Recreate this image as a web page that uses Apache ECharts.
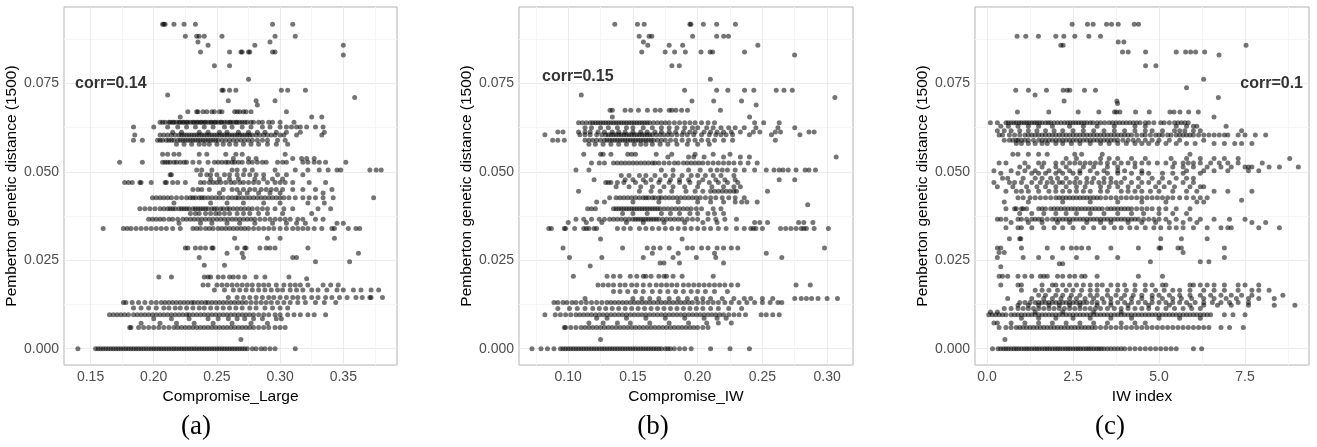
<!DOCTYPE html>
<html>
<head>
<meta charset="utf-8">
<script src="https://cdn.jsdelivr.net/npm/echarts@6/dist/echarts.min.js"></script>
<style>
html,body{margin:0;padding:0;background:#fff;}
#main{width:1317px;height:447px;}
</style>
</head>
<body>
<div id="main"></div>
<script>
// each row: [distance, [x values on that row]]
var rowsLarge = [
  [0.0917,[0.207,0.208,0.209,0.216,0.224,0.233,0.294,0.310]],
  [0.0883,[0.225,0.234,0.236,0.240,0.254,0.296,0.312]],
  [0.0867,[0.235,0.292]],
  [0.0858,[0.243,0.280,0.350]],
  [0.0839,[0.237,0.260,0.269,0.270,0.275,0.276,0.294,0.296]],
  [0.0830,[0.350]],
  [0.0800,[0.248,0.260]],
  [0.0762,[0.275]],
  [0.0731,[0.254,0.255,0.260,0.265,0.301,0.306,0.320]],
  [0.0717,[0.211]],
  [0.0710,[0.359]],
  [0.0701,[0.259,0.281,0.296]],
  [0.0689,[0.282]],
  [0.0670,[0.227,0.234,0.235,0.239,0.242,0.246,0.248,0.252,0.254,0.264,0.266,0.268,0.271,0.273,0.277,0.305]],
  [0.0655,[0.221,0.325,0.333]],
  [0.0640,[0.205,0.207,0.209,0.212,0.213,0.215,0.216,0.218,0.220,0.221,0.223,0.224,0.226,0.227,0.229,0.231,0.232,0.234,0.235,0.237,0.238,0.240,0.241,0.243,0.245,0.246,0.248,0.249,0.251,0.253,0.254,0.256,0.258,0.260,0.261,0.263,0.265,0.266,0.268,0.270,0.272,0.274,0.277,0.279,0.283,0.286,0.291,0.294,0.300,0.311]],
  [0.0627,[0.184,0.200,0.211,0.219,0.226,0.233,0.240,0.247,0.256,0.262,0.270,0.277,0.286,0.292,0.300,0.305,0.309,0.313,0.316,0.321,0.328,0.334]],
  [0.0612,[0.215,0.222,0.236,0.243,0.252,0.258,0.267,0.275,0.282,0.288,0.297,0.305,0.316,0.335]],
  [0.0604,[0.185,0.205,0.208,0.211,0.214,0.217,0.220,0.222,0.224,0.226,0.228,0.230,0.232,0.234,0.236,0.238,0.240,0.242,0.244,0.246,0.248,0.250,0.252,0.254,0.256,0.258,0.260,0.262,0.264,0.266,0.268,0.270,0.272,0.274,0.276,0.278,0.281,0.284,0.287,0.290,0.293,0.296,0.300,0.303,0.313,0.333]],
  [0.0589,[0.184,0.191,0.203,0.205,0.207,0.210,0.212,0.214,0.216,0.219,0.221,0.223,0.225,0.227,0.229,0.231,0.233,0.235,0.237,0.239,0.241,0.243,0.245,0.247,0.249,0.251,0.254,0.257,0.260,0.263,0.266,0.269,0.272,0.275,0.278,0.282,0.286,0.290,0.298,0.304]],
  [0.0578,[0.218,0.224,0.230,0.236,0.240,0.244,0.250,0.255,0.260,0.265,0.271,0.277,0.283,0.290,0.297,0.306]],
  [0.0550,[0.207,0.211,0.216,0.220,0.236,0.242,0.257,0.265,0.270,0.304]],
  [0.0538,[0.263,0.275,0.281,0.310,0.317,0.321,0.327]],
  [0.0527,[0.173,0.191,0.207,0.209,0.211,0.213,0.216,0.218,0.221,0.224,0.226,0.231,0.236,0.243,0.248,0.251,0.254,0.257,0.259,0.262,0.264,0.267,0.270,0.275,0.278,0.282,0.286,0.289,0.298,0.302,0.305,0.318,0.322,0.327,0.331,0.336,0.352]],
  [0.0505,[0.234,0.238,0.246,0.262,0.266,0.272,0.278,0.296,0.312,0.322,0.331,0.338,0.345,0.348,0.371,0.376,0.380]],
  [0.0492,[0.213,0.214,0.237,0.242,0.245,0.250,0.256,0.260,0.266,0.271,0.276,0.281,0.287,0.298,0.305,0.318]],
  [0.0480,[0.245,0.252,0.260,0.267,0.280,0.287,0.294,0.302]],
  [0.0470,[0.177,0.180,0.183,0.189,0.190,0.198,0.209,0.210,0.215,0.219,0.225,0.237,0.240,0.244,0.247,0.250,0.253,0.257,0.261,0.264,0.268,0.271,0.275,0.279,0.283,0.290,0.296,0.300,0.304,0.310,0.323,0.336]],
  [0.0450,[0.231,0.235,0.238,0.244,0.255,0.262,0.266,0.271,0.276,0.280,0.285,0.289,0.293,0.297,0.302,0.310,0.318,0.328,0.341]],
  [0.0440,[0.252,0.268,0.274,0.283,0.292,0.300,0.334]],
  [0.0427,[0.199,0.202,0.205,0.208,0.211,0.214,0.218,0.222,0.226,0.229,0.231,0.233,0.236,0.238,0.240,0.243,0.246,0.249,0.252,0.255,0.259,0.262,0.265,0.267,0.270,0.273,0.276,0.279,0.282,0.285,0.288,0.291,0.294,0.297,0.300,0.303,0.307,0.312,0.318,0.323,0.328,0.334,0.342,0.374]],
  [0.0412,[0.216,0.245,0.258,0.271,0.287,0.300,0.322,0.335]],
  [0.0396,[0.189,0.193,0.197,0.201,0.205,0.208,0.211,0.213,0.215,0.217,0.220,0.222,0.224,0.226,0.228,0.231,0.233,0.235,0.237,0.239,0.241,0.243,0.246,0.248,0.250,0.253,0.255,0.258,0.260,0.263,0.266,0.269,0.272,0.275,0.278,0.282,0.286,0.290,0.296,0.303,0.310,0.330,0.340]],
  [0.0382,[0.229,0.233,0.236,0.241,0.245,0.249,0.252,0.256,0.260,0.266,0.271,0.276,0.283,0.290,0.302,0.325]],
  [0.0366,[0.196,0.199,0.202,0.205,0.208,0.212,0.215,0.219,0.223,0.226,0.229,0.232,0.235,0.238,0.241,0.244,0.247,0.250,0.253,0.256,0.259,0.262,0.265,0.268,0.271,0.274,0.277,0.280,0.284,0.288,0.292,0.296,0.300,0.304,0.308,0.314,0.318,0.328,0.334]],
  [0.0355,[0.220,0.237,0.246,0.258,0.268,0.280,0.294,0.305,0.313,0.320,0.345,0.350]],
  [0.0340,[0.160,0.176,0.179,0.182,0.186,0.190,0.194,0.198,0.202,0.206,0.210,0.215,0.221,0.231,0.234,0.237,0.241,0.244,0.247,0.251,0.254,0.257,0.260,0.263,0.266,0.269,0.272,0.275,0.279,0.283,0.287,0.291,0.295,0.300,0.305,0.310,0.314,0.318,0.322,0.327,0.333,0.341,0.343,0.354,0.360,0.363]],
  [0.0312,[0.264,0.290,0.300,0.343]],
  [0.0285,[0.225,0.227,0.233,0.237,0.241,0.246,0.247,0.266,0.272,0.273,0.284,0.289,0.292,0.296,0.322]],
  [0.0270,[0.258,0.270,0.362]],
  [0.0258,[0.236,0.271,0.310,0.313]],
  [0.0246,[0.328,0.355]],
  [0.0236,[0.240,0.256]],
  [0.0203,[0.204,0.214,0.240,0.243,0.245,0.251,0.255,0.260,0.263,0.267,0.272,0.281,0.288,0.307]],
  [0.0198,[0.321]],
  [0.0180,[0.239,0.243,0.250,0.254,0.258,0.262,0.266,0.270,0.274,0.278,0.283,0.287,0.291,0.297,0.303,0.308,0.312,0.316,0.322,0.334,0.340,0.346]],
  [0.0166,[0.248,0.256,0.263,0.268,0.273,0.278,0.283,0.288,0.293,0.298,0.302,0.308,0.313,0.318,0.325,0.330,0.337,0.345,0.350,0.358,0.364,0.372,0.378]],
  [0.0145,[0.259,0.266,0.271,0.276,0.281,0.286,0.291,0.295,0.300,0.305,0.310,0.314,0.319,0.325,0.330,0.336,0.341,0.347,0.353,0.360,0.365,0.371,0.372,0.381]],
  [0.0131,[0.176,0.178,0.183,0.188,0.193,0.198,0.202,0.206,0.209,0.212,0.215,0.218,0.221,0.224,0.227,0.230,0.232,0.235,0.238,0.241,0.243,0.246,0.249,0.252,0.255,0.258,0.261,0.264,0.267,0.270,0.273,0.277,0.281,0.285,0.289,0.293,0.298,0.303,0.308,0.314,0.320,0.328,0.335,0.344]],
  [0.0115,[0.184,0.190,0.196,0.202,0.208,0.212,0.217,0.221,0.226,0.231,0.236,0.240,0.245,0.250,0.255,0.260,0.265,0.270,0.276,0.281,0.288,0.294,0.300,0.306]],
  [0.0096,[0.165,0.168,0.171,0.174,0.177,0.180,0.184,0.187,0.190,0.193,0.196,0.199,0.202,0.205,0.208,0.211,0.214,0.217,0.220,0.223,0.226,0.228,0.231,0.234,0.237,0.240,0.243,0.246,0.249,0.252,0.255,0.258,0.261,0.264,0.267,0.270,0.273,0.276,0.279,0.283,0.287,0.291,0.296,0.300,0.306,0.311,0.316,0.322,0.327,0.336]],
  [0.0085,[0.200,0.214,0.228,0.243,0.251,0.259,0.266,0.272,0.279,0.286,0.297,0.301]],
  [0.0072,[0.190,0.205,0.218,0.232,0.247,0.262,0.277,0.290]],
  [0.0060,[0.181,0.182,0.188,0.192,0.196,0.200,0.204,0.208,0.212,0.216,0.219,0.222,0.225,0.228,0.231,0.234,0.237,0.240,0.243,0.246,0.249,0.252,0.255,0.258,0.261,0.264,0.267,0.270,0.273,0.276,0.279,0.283,0.287,0.291,0.296,0.300,0.304]],
  [0.0026,[0.269]],
  [0,[0.140,0.154,0.156,0.158,0.160,0.162,0.164,0.166,0.168,0.170,0.172,0.174,0.176,0.178,0.180,0.182,0.184,0.186,0.188,0.190,0.192,0.194,0.196,0.198,0.200,0.202,0.204,0.206,0.208,0.210,0.212,0.214,0.216,0.218,0.220,0.222,0.224,0.226,0.228,0.230,0.232,0.234,0.236,0.238,0.240,0.242,0.244,0.246,0.248,0.250,0.252,0.254,0.256,0.258,0.260,0.262,0.264,0.266,0.268,0.270,0.272,0.274,0.278,0.281,0.285,0.288,0.292,0.296,0.312]]
];

var rowsIW = [
  [0.0917,[0.136,0.1535,0.1587,0.194,0.1948,0.2044,0.2147,0.2292]],
  [0.0883,[0.1548,0.1625,0.1646,0.1961,0.2147,0.2201,0.2238]],
  [0.0867,[0.1581]],
  [0.0858,[0.1615,0.178,0.1884,0.2465]],
  [0.0839,[0.1568,0.1749,0.1822,0.1905,0.2026,0.2096,0.2116,0.2362]],
  [0.0830,[0.2749]],
  [0.0800,[0.1801,0.1858]],
  [0.0762,[0.2098]],
  [0.0731,[0.1899,0.2147,0.2233,0.2362,0.2434,0.2607,0.2667,0.2731]],
  [0.0717,[0.1101]],
  [0.0710,[0.306]],
  [0.0700,[0.1956,0.2124,0.2339]],
  [0.0689,[0.2452]],
  [0.0674,[0.1323,0.1341,0.1439,0.1483,0.1543,0.1612,0.1672,0.1711,0.178,0.1801,0.1832,0.1876,0.1922,0.2176]],
  [0.0655,[0.1341,0.2401]],
  [0.0639,[0.108,0.111,0.114,0.117,0.119,0.121,0.123,0.125,0.127,0.129,0.131,0.133,0.135,0.137,0.139,0.141,0.143,0.145,0.147,0.149,0.151,0.153,0.155,0.157,0.159,0.161,0.163,0.166,0.169,0.172,0.175,0.178,0.182,0.186,0.190,0.194,0.198,0.203,0.208,0.213,0.244,0.251,0.263]],
  [0.0625,[0.113,0.118,0.125,0.131,0.138,0.145,0.150,0.158,0.165,0.172,0.178,0.184,0.190,0.196,0.200,0.207,0.212,0.218,0.224,0.229,0.236,0.245,0.262,0.275]],
  [0.0613,[0.092,0.096,0.108,0.113,0.117,0.123,0.128,0.134,0.139,0.144,0.150,0.156,0.161,0.167,0.172,0.178,0.183,0.189,0.194,0.198,0.205,0.210,0.215,0.220,0.226,0.233,0.243,0.248,0.260,0.264,0.286,0.290]],
  [0.0605,[0.082,0.109,0.113,0.117,0.122,0.126,0.129,0.131,0.133,0.135,0.137,0.139,0.141,0.143,0.145,0.147,0.149,0.151,0.153,0.155,0.157,0.159,0.161,0.163,0.165,0.168,0.171,0.174,0.177,0.180,0.184,0.188,0.192,0.197,0.203,0.209,0.214,0.218,0.222,0.227,0.240,0.257,0.279]],
  [0.0589,[0.088,0.092,0.097,0.113,0.116,0.119,0.122,0.125,0.128,0.130,0.132,0.134,0.136,0.138,0.140,0.142,0.144,0.146,0.148,0.150,0.152,0.154,0.156,0.158,0.160,0.162,0.164,0.166,0.169,0.172,0.175,0.179,0.183,0.188,0.193,0.198,0.203,0.208,0.213,0.220,0.227,0.260]],
  [0.0578,[0.116,0.121,0.127,0.133,0.139,0.145,0.151,0.156,0.160,0.165,0.171,0.177,0.184,0.192,0.200,0.209]],
  [0.0550,[0.112,0.125,0.127,0.133,0.146,0.149,0.152,0.168,0.180,0.198,0.212,0.225]],
  [0.0542,[0.177,0.193,0.197,0.205,0.220,0.233,0.240,0.307]],
  [0.0525,[0.118,0.124,0.128,0.135,0.138,0.141,0.144,0.147,0.150,0.153,0.156,0.159,0.162,0.165,0.167,0.170,0.174,0.178,0.182,0.185,0.189,0.192,0.195,0.198,0.201,0.204,0.208,0.212,0.216,0.220,0.224,0.228,0.233,0.239,0.246]],
  [0.0505,[0.106,0.116,0.172,0.181,0.193,0.202,0.210,0.215,0.219,0.223,0.229,0.236,0.244,0.253,0.259,0.263,0.266,0.270,0.276,0.283,0.286,0.291]],
  [0.0490,[0.141,0.147,0.155,0.160,0.167,0.175,0.181,0.188,0.195,0.200,0.206,0.212,0.218,0.228]],
  [0.0478,[0.120,0.144,0.150,0.158,0.164,0.171,0.179,0.186,0.193,0.204,0.214,0.221,0.229,0.263,0.275]],
  [0.0470,[0.129,0.131,0.133,0.138,0.143,0.152,0.160,0.170,0.178,0.186,0.194,0.201,0.209,0.216,0.223,0.231]],
  [0.0458,[0.137,0.147,0.156,0.165,0.174,0.181,0.190,0.200,0.211,0.220,0.228,0.233]],
  [0.0445,[0.108,0.155,0.164,0.171,0.180,0.191,0.198,0.204,0.210,0.213,0.216,0.219,0.222,0.225,0.228,0.230,0.254]],
  [0.0427,[0.132,0.137,0.140,0.143,0.146,0.149,0.152,0.155,0.158,0.160,0.162,0.165,0.167,0.170,0.172,0.175,0.178,0.181,0.184,0.187,0.190,0.193,0.196,0.199,0.202,0.206,0.210,0.214,0.219,0.224,0.229,0.236]],
  [0.0415,[0.122,0.128,0.150,0.170,0.185,0.200,0.210,0.220,0.229,0.234,0.238,0.246]],
  [0.0407,[0.285]],
  [0.0396,[0.115,0.118,0.121,0.135,0.137,0.139,0.141,0.143,0.145,0.147,0.149,0.151,0.153,0.155,0.157,0.159,0.161,0.163,0.165,0.167,0.169,0.171,0.174,0.177,0.180,0.183,0.186,0.189,0.192,0.195,0.199,0.203,0.212,0.218]],
  [0.0382,[0.142,0.150,0.161,0.172,0.179,0.186,0.194,0.200,0.208,0.213,0.220]],
  [0.0366,[0.106,0.112,0.118,0.124,0.128,0.132,0.135,0.138,0.141,0.144,0.147,0.150,0.152,0.154,0.156,0.158,0.160,0.162,0.164,0.166,0.168,0.170,0.173,0.176,0.179,0.182,0.185,0.188,0.192,0.196,0.200,0.208,0.214,0.221,0.230]],
  [0.0357,[0.100,0.114,0.126,0.145,0.158,0.174,0.190,0.204,0.215,0.244,0.248,0.254,0.278,0.282,0.289]],
  [0.0340,[0.085,0.087,0.097,0.098,0.105,0.112,0.114,0.116,0.120,0.122,0.138,0.143,0.148,0.155,0.160,0.165,0.170,0.175,0.180,0.185,0.190,0.195,0.200,0.205,0.210,0.216,0.222,0.230,0.236,0.241,0.243,0.245,0.250,0.264,0.268,0.272,0.276,0.280,0.282,0.284,0.290,0.301]],
  [0.0310,[0.125,0.188]],
  [0.0285,[0.096,0.142,0.161,0.166,0.171,0.178,0.192,0.196,0.203,0.208,0.215,0.220,0.226,0.231,0.298]],
  [0.0270,[0.165,0.185,0.213,0.253]],
  [0.0258,[0.101,0.126,0.158,0.181,0.199,0.214,0.265]],
  [0.0242,[0.171,0.174,0.186,0.220]],
  [0.0234,[0.117]],
  [0.0205,[0.104,0.130,0.135,0.140,0.148,0.153,0.158,0.160,0.164,0.170,0.174,0.176,0.181,0.188,0.212]],
  [0.0180,[0.123,0.127,0.131,0.135,0.140,0.144,0.149,0.153,0.158,0.163,0.168,0.172,0.176,0.180,0.184,0.189,0.193,0.197,0.201,0.205,0.209,0.213,0.217,0.221,0.226,0.231,0.276,0.287]],
  [0.0162,[0.135,0.140,0.146,0.152,0.158,0.165,0.171,0.177,0.183,0.189,0.195,0.200,0.206,0.213,0.223]],
  [0.0142,[0.113,0.150,0.157,0.163,0.170,0.178,0.185,0.192,0.199,0.204,0.210,0.219,0.228,0.236,0.241,0.250,0.258,0.275,0.280,0.284,0.288,0.293,0.300,0.308]],
  [0.0131,[0.089,0.092,0.096,0.099,0.103,0.106,0.110,0.114,0.118,0.122,0.126,0.130,0.133,0.136,0.139,0.142,0.145,0.148,0.151,0.154,0.157,0.160,0.163,0.166,0.169,0.172,0.175,0.178,0.181,0.184,0.187,0.190,0.193,0.196,0.200,0.204,0.208,0.212,0.216,0.221,0.226,0.232,0.238,0.244,0.250,0.256,0.262,0.265]],
  [0.0114,[0.092,0.101,0.107,0.113,0.119,0.124,0.129,0.134,0.139,0.144,0.149,0.154,0.159,0.164,0.169,0.174,0.179,0.184,0.189,0.194,0.199,0.204,0.210,0.216,0.224,0.234]],
  [0.0096,[0.082,0.090,0.094,0.098,0.102,0.106,0.109,0.112,0.115,0.118,0.121,0.124,0.127,0.130,0.133,0.136,0.139,0.142,0.145,0.148,0.151,0.154,0.157,0.160,0.163,0.166,0.169,0.172,0.175,0.178,0.181,0.184,0.187,0.190,0.193,0.196,0.199,0.202,0.205,0.208,0.211,0.214,0.217,0.220,0.224,0.228,0.232,0.237,0.249,0.253,0.258,0.263]],
  [0.0086,[0.122,0.130,0.145,0.160,0.175,0.190,0.205,0.215,0.222]],
  [0.0073,[0.116,0.127,0.138,0.148,0.163,0.178,0.193,0.207,0.216,0.226]],
  [0.0060,[0.097,0.098,0.102,0.106,0.110,0.113,0.116,0.119,0.122,0.125,0.128,0.131,0.134,0.137,0.140,0.143,0.146,0.149,0.152,0.155,0.158,0.161,0.164,0.167,0.170,0.173,0.176,0.179,0.182,0.185,0.188,0.191,0.194,0.197,0.200,0.204,0.208]],
  [0.0026,[0.125]],
  [0,[0.072,0.079,0.084,0.089,0.094,0.096,0.098,0.100,0.102,0.104,0.106,0.108,0.110,0.112,0.114,0.116,0.118,0.120,0.122,0.124,0.126,0.128,0.130,0.132,0.134,0.136,0.138,0.140,0.142,0.144,0.146,0.148,0.150,0.152,0.154,0.156,0.158,0.160,0.162,0.164,0.166,0.168,0.170,0.172,0.175,0.177,0.179,0.182,0.186,0.190,0.195,0.210,0.225,0.240]]
];

var rowsIndex = [
  [0.0917,[2.474,2.92,3.085,3.474,3.619,3.813,4.279,4.405]],
  [0.0883,[0.873,1.126,1.494,1.999,2.232,2.552,2.959,3.299]],
  [0.0867,[3.813,3.978]],
  [0.0858,[2.144,2.212,7.53]],
  [0.0839,[3.939,4.104,4.609,5.50,5.773,5.919,6.064,6.326]],
  [0.0830,[6.744]],
  [0.0800,[4.609,4.91]],
  [0.0762,[6.297]],
  [0.0738,[5.80]],
  [0.0731,[0.834,1.203,1.727,2.212,2.329,2.406,2.833,3.153]],
  [0.0717,[1.397]],
  [0.0710,[6.724]],
  [0.0700,[2.241,3.775]],
  [0.0693,[3.794]],
  [0.0669,[0.883,1.795,2.649,3.25,3.706,3.765,3.862,4.318,4.716,5.317,5.434,5.608,5.861,6.142]],
  [0.0655,[6.598]],
  [0.0639,[0.097,0.30,0.55,0.62,0.70,0.78,0.85,0.93,1.0,1.08,1.15,1.22,1.3,1.38,1.45,1.52,1.6,1.7,1.78,1.85,1.95,2.05,2.15,2.25,2.34,2.42,2.5,2.58,2.66,2.74,2.82,2.9,3.0,3.08,3.2,3.3,3.42,3.55,3.65,3.75,3.85,3.95,4.05,4.15,4.25,4.35,4.45,4.6,4.7,4.85,5.05,5.15,5.3,5.45,5.55,5.65,5.75,5.85]],
  [0.0629,[0.4,0.62,0.9,1.2,1.5,1.9,2.4,2.8,3.2,3.7,4.3,4.6,5.5,5.8,6.0,6.1,6.95]],
  [0.0616,[0.3,0.5,0.7,0.95,1.2,1.45,1.7,1.95,2.2,2.5,2.8,3.1,3.4,3.7,4.0,4.3,4.6,4.8,5.1,5.45,5.6,5.75,6.0,6.2,7.4]],
  [0.0604,[0.35,0.45,0.65,0.8,0.95,1.1,1.2,1.3,1.4,1.5,1.6,1.7,1.8,1.9,2.0,2.1,2.2,2.3,2.4,2.5,2.6,2.7,2.8,2.9,3.0,3.1,3.2,3.3,3.4,3.5,3.6,3.7,3.8,3.9,4.0,4.1,4.2,4.35,4.5,4.6,4.75,4.9,5.0,5.1,5.25,5.35,5.5,5.6,5.7,5.8,5.9,6.0,6.15,6.3,6.45,6.6,6.75,6.9,7.0,7.3,7.5,7.8,8.1]],
  [0.0589,[0.5,0.65,0.75,0.85,0.9,1.0,1.1,1.2,1.35,1.5,1.6,1.7,1.8,1.9,2.0,2.1,2.2,2.3,2.4,2.5,2.6,2.7,2.8,2.9,3.0,3.1,3.2,3.3,3.4,3.5,3.6,3.7,3.8,3.95,4.1,4.25,4.4,4.6,4.8,5.0,5.3,5.6,6.3]],
  [0.0580,[0.85,1.0,1.2,1.4,1.6,1.75,2.0,2.2,2.45,2.7,3.0,3.3,3.55,3.8,4.05,4.3,4.5,4.7,4.95,5.2,5.5,5.8,6.05,6.6,6.9,7.2,7.4,7.7]],
  [0.0550,[0.75,0.9,1.2,1.5,1.75,2.55,2.75,3.35,5.9]],
  [0.0538,[2.3,2.6,3.3,3.55,3.8,4.2,4.6,5.35,5.8,6.2,6.6,6.9,7.3,8.8]],
  [0.0525,[0.35,0.55,1.1,1.5,1.65,2.0,2.2,2.4,2.55,2.7,2.85,3.0,3.15,3.3,3.5,3.7,3.9,4.1,4.3,4.5,4.7,4.95,5.2,5.45,5.7,5.85,6.0,6.2,6.5,6.75,7.0,7.3,8.0]],
  [0.0514,[0.95,1.2,1.6,2.0,2.3,2.8,3.1,3.5,3.8,4.3,5.4,5.7,6.0,6.4,6.8,7.1,7.5,7.6,7.7,8.2,8.5,9.05]],
  [0.0503,[0.2,0.7,1.1,1.4,1.8,2.1,2.4,2.7,3.0,3.4,3.8,4.0,4.5,5.8,6.3,6.6,7.0,7.6,7.9]],
  [0.0496,[0.4,0.9,1.3,1.5,1.7,2.0,2.2,2.5,2.7,3.2,3.5,3.8,4.2,4.5,4.7,5.1,5.4,5.7,6.2]],
  [0.0482,[0.45,0.6,1.05,1.4,1.6,1.85,2.05,2.3,2.6,2.9,3.1,3.4,3.6,4.0,4.4,4.8,5.1,5.5,5.8,6.0]],
  [0.0470,[0.2,0.65,0.8,1.0,1.3,1.55,1.75,1.9,2.1,2.2,2.4,2.55,2.7,2.9,3.05,3.25,3.4,3.6,3.75,3.9,4.2,4.5,4.7,5.0,5.3,5.7,6.0]],
  [0.0458,[0.3,0.75,1.15,1.45,1.7,2.0,2.3,2.6,2.85,3.3,3.55,3.8,4.1,4.4,4.9,5.15,5.45,5.9,6.2,6.3]],
  [0.0445,[0.55,0.85,1.0,1.2,1.5,1.8,2.0,2.2,2.4,2.6,2.8,3.0,3.3,3.5,3.9,4.1,4.3,4.5,4.75,5.0,5.4,5.8,6.1,6.6,7.0,7.7]],
  [0.0427,[0.9,1.05,1.25,1.4,1.55,1.7,1.85,2.0,2.1,2.2,2.3,2.4,2.5,2.6,2.7,2.8,2.9,3.0,3.1,3.2,3.3,3.45,3.6,3.75,3.9,4.05,4.2,4.35,4.5,4.65,4.8,4.95,5.1,5.25,5.4,5.6,5.8,6.0,6.2,6.4]],
  [0.0420,[7.4]],
  [0.0415,[0.5,1.2,2.2,3.0,3.8,4.5,5.2,6.1,6.3]],
  [0.0396,[0.55,0.8,0.85,1.0,1.05,1.15,1.5,1.6,1.7,1.85,1.95,2.05,2.15,2.25,2.35,2.45,2.55,2.65,2.75,2.85,2.95,3.05,3.15,3.25,3.35,3.5,3.6,3.7,3.8,3.9,4.0,4.1,4.2,4.35,4.5,4.65,4.8,5.0,5.2,5.5,5.9]],
  [0.0382,[0.95,1.3,1.65,2.0,2.3,2.6,3.0,3.4,3.8,4.2,4.55,5.0,5.4,5.8]],
  [0.0366,[0.3,0.4,0.55,0.9,1.0,1.15,1.3,1.4,1.5,1.6,1.75,1.9,2.0,2.1,2.2,2.3,2.4,2.5,2.6,2.7,2.8,2.9,3.0,3.1,3.2,3.3,3.4,3.5,3.6,3.7,3.8,3.9,4.0,4.1,4.2,4.3,4.4,4.55,4.7,4.85,5.0,5.2,5.5,5.9,6.2,6.6,7.05,7.5]],
  [0.0357,[0.7,1.2,1.6,2.05,2.4,2.9,3.3,3.6,4.1,4.5,4.9,5.3,5.7,6.1,7.7,8.1]],
  [0.0342,[0.55,0.9,1.0,1.3,1.65,1.95,2.2,2.5,2.8,3.1,3.4,3.7,3.9,4.15,4.35,4.6,4.85,5.05,5.3,5.5,5.7,6.0,6.4,6.8,7.0,7.1,7.9,8.5]],
  [0.0311,[0.65,0.95,0.98,5.05,5.65,6.4]],
  [0.0285,[0.3,0.4,1.0,1.75,2.2,2.45,2.6,2.75,2.95,3.6,4.4,5.0,5.05,5.55,5.65,6.9]],
  [0.0272,[0.35,0.5,5.7]],
  [0.0258,[0.3,1.05,1.5,1.9,2.6,3.2,3.8,6.9]],
  [0.0246,[4.75,6.2,6.45]],
  [0.0240,[2.1,2.2]],
  [0.0232,[0.4]],
  [0.0205,[0.35,0.45,0.6,0.9,1.1,1.3,1.55,1.65,1.75,2.05,2.2,2.4,2.55,2.75,2.85,3.2,4.4,5.1]],
  [0.0180,[0.4,0.9,1.0,1.6,1.9,2.0,2.2,2.4,2.6,2.8,3.0,3.2,3.35,3.6,3.8,4.0,4.3,4.6,4.8,5.1,5.2,5.9,6.0,6.2,6.4,6.6,6.9,7.3,7.5,7.9]],
  [0.0165,[1.0,1.4,1.6,1.8,2.05,2.3,2.5,2.75,3.0,3.2,3.5,3.8,4.05,4.3,4.6,4.9,5.15,5.4,5.6,5.9,6.3,6.6,6.9,7.3,7.7,7.9,8.2]],
  [0.0151,[1.5,1.7,2.0,2.2,2.45,2.7,3.0,3.2,3.5,3.75,4.0,4.25,4.5,4.8,5.0,5.3,5.6,5.9,6.2,6.5,6.8,7.1,7.4,7.7,8.6]],
  [0.0142,[0.6,1.3,1.65,1.9,2.15,2.4,2.6,2.85,3.1,3.35,3.6,3.9,4.2,4.5,4.8,5.1,5.4,5.65,5.95,6.3,6.6,6.95,7.25,7.6,7.9,8.35]],
  [0.0131,[0.95,1.1,1.25,1.4,1.5,1.6,1.7,1.8,1.9,2.0,2.1,2.2,2.3,2.4,2.5,2.6,2.7,2.8,2.9,3.05,3.2,3.4,3.6,3.8,4.0,4.2,4.4,4.6,4.8,5.0,5.2,5.4,5.6,5.8,6.05,6.3,6.55,6.8,7.05,7.3,7.6]],
  [0.0123,[0.9,1.2,1.5,1.8,2.1,2.4,2.7,3.2,3.6,4.1,4.7,5.3,5.9,6.3,6.7,7.1,7.6,8.35,8.95]],
  [0.0114,[0.5,0.7,0.9,1.05,1.2,1.35,1.5,1.65,1.8,1.95,2.1,2.25,2.4,2.55,2.7,2.85,3.0,3.15,3.3,3.5,3.7,3.9,4.1,4.3,4.5,4.7,4.95,5.2,5.45,5.7,5.95,6.2]],
  [0.0104,[0.1,0.3,1.4,2.2,3.1,3.9]],
  [0.0096,[0.05,0.15,0.25,0.35,0.45,0.55,0.7,0.8,0.9,1.0,1.1,1.2,1.3,1.4,1.5,1.6,1.7,1.8,1.9,2.0,2.1,2.2,2.3,2.4,2.5,2.6,2.7,2.8,2.9,3.0,3.1,3.2,3.3,3.4,3.5,3.6,3.7,3.8,3.9,4.0,4.1,4.2,4.3,4.4,4.5,4.6,4.7,4.8,4.9,5.0,5.1,5.2,5.3,5.4,5.5,5.6,5.7,5.8,5.9,6.0,6.1,6.2,6.3,6.4,6.5,6.9,7.15,7.5]],
  [0.0086,[1.0,1.5,2.0,2.5,3.0,3.6,4.2,5.0,5.6,6.2]],
  [0.0073,[0.2,0.3,0.7,1.1,1.5,1.9,2.3,2.7,3.1,3.5,3.9,4.3,4.6]],
  [0.0060,[0.35,0.55,0.7,0.85,0.95,1.05,1.15,1.25,1.35,1.45,1.55,1.65,1.75,1.85,1.95,2.05,2.15,2.25,2.35,2.45,2.55,2.65,2.75,2.85,2.95,3.05,3.15,3.3,3.45,3.6,3.75,3.9,4.05,4.2,4.35,4.5,4.65,4.8,4.95,5.1,5.25,5.4,5.55,5.7,5.85,6.0,6.15,6.3,6.45,6.8,7.05,7.45]],
  [0.0026,[0.52]],
  [0,[0.16,0.32,0.4,0.48,0.55,0.62,0.7,0.78,0.85,0.92,1.0,1.08,1.15,1.22,1.3,1.38,1.45,1.52,1.6,1.68,1.75,1.82,1.9,1.98,2.05,2.12,2.2,2.28,2.35,2.42,2.5,2.58,2.65,2.72,2.8,2.88,2.95,3.02,3.1,3.18,3.25,3.32,3.4,3.5,3.6,3.7,3.8,3.9,4.0,4.15,4.3,4.45,4.6,4.75,4.9,5.05,5.2,5.35,5.5,6.0,6.24]]
];

// axis ticks (major labelled, minor only as grid lines)
var yMajor = [0, 0.025, 0.05, 0.075];
var yAll = [0, 0.0125, 0.025, 0.0375, 0.05, 0.0625, 0.075, 0.0875];
var xMajorLarge = [0.15, 0.20, 0.25, 0.30, 0.35];
var xAllLarge = [0.15, 0.175, 0.20, 0.225, 0.25, 0.275, 0.30, 0.325, 0.35, 0.375];
var xMajorIW = [0.10, 0.15, 0.20, 0.25, 0.30];
var xAllIW = [0.075, 0.10, 0.125, 0.15, 0.175, 0.20, 0.225, 0.25, 0.275, 0.30];
var xMajorIndex = [0, 2.5, 5, 7.5];
var xAllIndex = [0, 1.25, 2.5, 3.75, 5, 6.25, 7.5, 8.75];

var MAJ = '#ebebeb', MIN = '#f5f5f5';

function rowsToPoints(rows){
  var pts = [];
  rows.forEach(function(r){
    r[1].forEach(function(x){ pts.push([x, r[0]]); });
  });
  return pts;
}

function makeX(gi, name, min, max, major, all, digits, colors){
  return {
    type: 'value', gridIndex: gi, min: min, max: max,
    name: name, nameLocation: 'middle', nameGap: 19,
    nameTextStyle: {color: '#000', fontSize: 15.5, fontFamily: 'Liberation Sans'},
    axisLine: {show: false},
    axisTick: {show: false, customValues: all},
    axisLabel: {customValues: major, margin: 5, color: '#4d4d4d', fontSize: 14, fontFamily: 'Liberation Sans',
      formatter: function(v){ return (+v).toFixed(digits); }},
    splitLine: {show: true, lineStyle: {color: colors, width: 1}}
  };
}
function makeY(gi){
  return {
    type: 'value', gridIndex: gi, min: -0.0046, max: 0.0966,
    name: 'Pemberton genetic distance (1500)', nameLocation: 'middle', nameGap: 32, nameRotate: 90,
    nameTextStyle: {color: '#000', fontSize: 15.5, fontFamily: 'Liberation Sans'},
    axisLine: {show: false},
    axisTick: {show: false, customValues: yAll},
    axisLabel: {customValues: yMajor, margin: 5, color: '#4d4d4d', fontSize: 14, fontFamily: 'Liberation Sans',
      formatter: function(v){ return (+v).toFixed(3); }},
    splitLine: {show: true, lineStyle: {color: [MAJ, MIN], width: 1}}
  };
}
function makeSeries(gi, rows){
  return {
    type: 'scatter', xAxisIndex: gi, yAxisIndex: gi,
    symbolSize: 5, silent: true,
    itemStyle: {color: 'rgba(0,0,0,0.68)'},
    data: rowsToPoints(rows)
  };
}

var myChart = echarts.init(document.getElementById('main'));
var gridBase = {top: 7, height: 358, show: true, borderColor: '#b3b3b3', borderWidth: 1, backgroundColor: '#fff'};
var corrFont = 'bold 16px "Liberation Sans"';
var capFont = '27px "Liberation Serif"';
myChart.setOption({
  animation: false,
  grid: [
    Object.assign({left: 64, width: 333}, gridBase),
    Object.assign({left: 519, width: 334}, gridBase),
    Object.assign({left: 975, width: 334}, gridBase)
  ],
  xAxis: [
    makeX(0, 'Compromise_Large', 0.129, 0.3925, xMajorLarge, xAllLarge, 2, [MAJ, MIN]),
    makeX(1, 'Compromise_IW', 0.062, 0.320, xMajorIW, xAllIW, 2, [MIN, MAJ]),
    makeX(2, 'IW index', -0.35, 9.36, xMajorIndex, xAllIndex, 1, [MAJ, MIN])
  ],
  yAxis: [makeY(0), makeY(1), makeY(2)],
  series: [makeSeries(0, rowsLarge), makeSeries(1, rowsIW), makeSeries(2, rowsIndex)],
  graphic: [
    {type: 'text', z: 100, x: 75, y: 84, style: {text: 'corr=0.14', font: corrFont, fill: '#333', align: 'left', verticalAlign: 'middle'}},
    {type: 'text', z: 100, x: 542, y: 77, style: {text: 'corr=0.15', font: corrFont, fill: '#333', align: 'left', verticalAlign: 'middle'}},
    {type: 'text', z: 100, x: 1303, y: 84, style: {text: 'corr=0.1', font: corrFont, fill: '#333', align: 'right', verticalAlign: 'middle'}},
    {type: 'text', z: 100, x: 196, y: 427, style: {text: '(a)', font: capFont, fill: '#000', align: 'center', verticalAlign: 'middle'}},
    {type: 'text', z: 100, x: 653, y: 427, style: {text: '(b)', font: capFont, fill: '#000', align: 'center', verticalAlign: 'middle'}},
    {type: 'text', z: 100, x: 1110, y: 427, style: {text: '(c)', font: capFont, fill: '#000', align: 'center', verticalAlign: 'middle'}}
  ]
});
</script>
</body>
</html>
